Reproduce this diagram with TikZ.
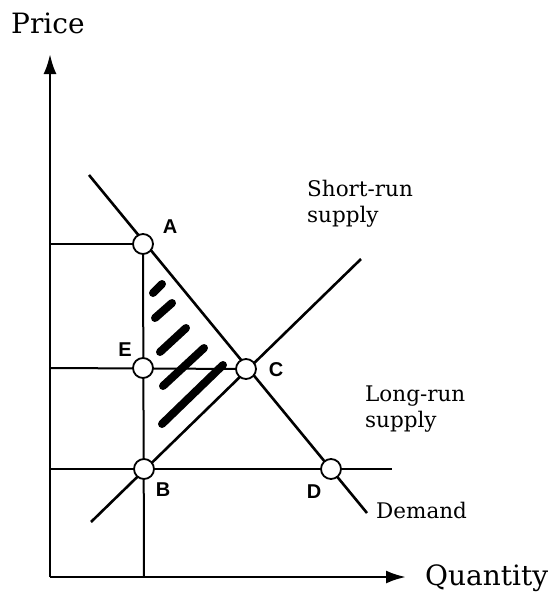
\documentclass[tikz,border=0pt]{standalone}
\usepackage{fontspec}
\setmainfont{DejaVu Serif}
\newfontfamily\labfont{Liberation Sans}
\usetikzlibrary{arrows.meta}
\begin{document}
\begin{tikzpicture}[x=1pt,y=-1pt,
  curve/.style={line width=2.6pt},
  guide/.style={line width=2pt},
  axis/.style={line width=2.6pt,-{Latex[length=20pt,width=13pt]}},
  dot/.style={circle,draw,fill=white,line width=1.8pt,minimum size=20pt,inner sep=0pt},
  ptlab/.style={font=\labfont\bfseries\fontsize{20}{20}\selectfont,inner sep=0pt},
  txt/.style={font=\fontsize{21.5}{26}\selectfont,inner sep=0pt,align=left},
  bigtxt/.style={font=\fontsize{28}{28}\selectfont,inner sep=0pt},
  hatch/.style={line width=8pt,line cap=round}]
\useasboundingbox (0,0) rectangle (557,592);
% key points
\coordinate (O) at (50,577);
\coordinate (yt) at (50,54);
\coordinate (xt) at (406,577);
\coordinate (A) at (143,244);
\coordinate (B) at (144,469);
\coordinate (C) at (246,369);
\coordinate (D) at (331,469);
\coordinate (E) at (143,368);
\coordinate (dtop) at (89,175);
\coordinate (dbot) at (367,513);
\coordinate (stop) at (361,259);
\coordinate (sbot) at (91,522);
\coordinate (yA) at (50,244);
\coordinate (yE) at (50,368);
\coordinate (yB) at (50,469);
\coordinate (lrend) at (392,469);
\coordinate (xB) at (144,577);
% axes
\draw[axis] (O) -- (yt);
\draw[axis] (O) -- (xt);
% guide lines
\draw[guide] (yA) -- (A);
\draw[guide] (yE) -- (C);
\draw[guide] (yB) -- (lrend);
\draw[guide] (A) -- (xB);
% demand and supply
\draw[curve] (dtop) -- (dbot);
\draw[curve] (sbot) -- (stop);
% hatching
\draw[hatch] (153,293) -- (162,284);
\draw[hatch] (155,318) -- (172,303);
\draw[hatch] (160,352) -- (186,328);
\draw[hatch] (163,386) -- (204,348);
\draw[hatch] (162,424) -- (223,365);
% point circles
\node[dot] (Ac) at (A) {};
\node[dot] (Bc) at (B) {};
\node[dot] (Cc) at (C) {};
\node[dot] (Dc) at (D) {};
\node[dot] (Ec) at (E) {};
% point labels
\node[ptlab] (Al) at (170,227) {A};
\node[ptlab] (Bl) at (163,490) {B};
\node[ptlab] (Cl) at (276,370) {C};
\node[ptlab] (Dl) at (314,492) {D};
\node[ptlab] (El) at (125,350) {E};
% texts
\node[bigtxt,anchor=base west] (price) at (11,33) {Price};
\node[bigtxt,anchor=base west] (qty) at (425,585) {Quantity};
\node[txt,anchor=base west] (sr) at (307,222) {Short-run\\supply};
\node[txt,anchor=base west] (lr) at (365,427) {Long-run\\supply};
\node[txt,anchor=base west] (dem) at (376,518) {Demand};
\end{tikzpicture}
\end{document}
